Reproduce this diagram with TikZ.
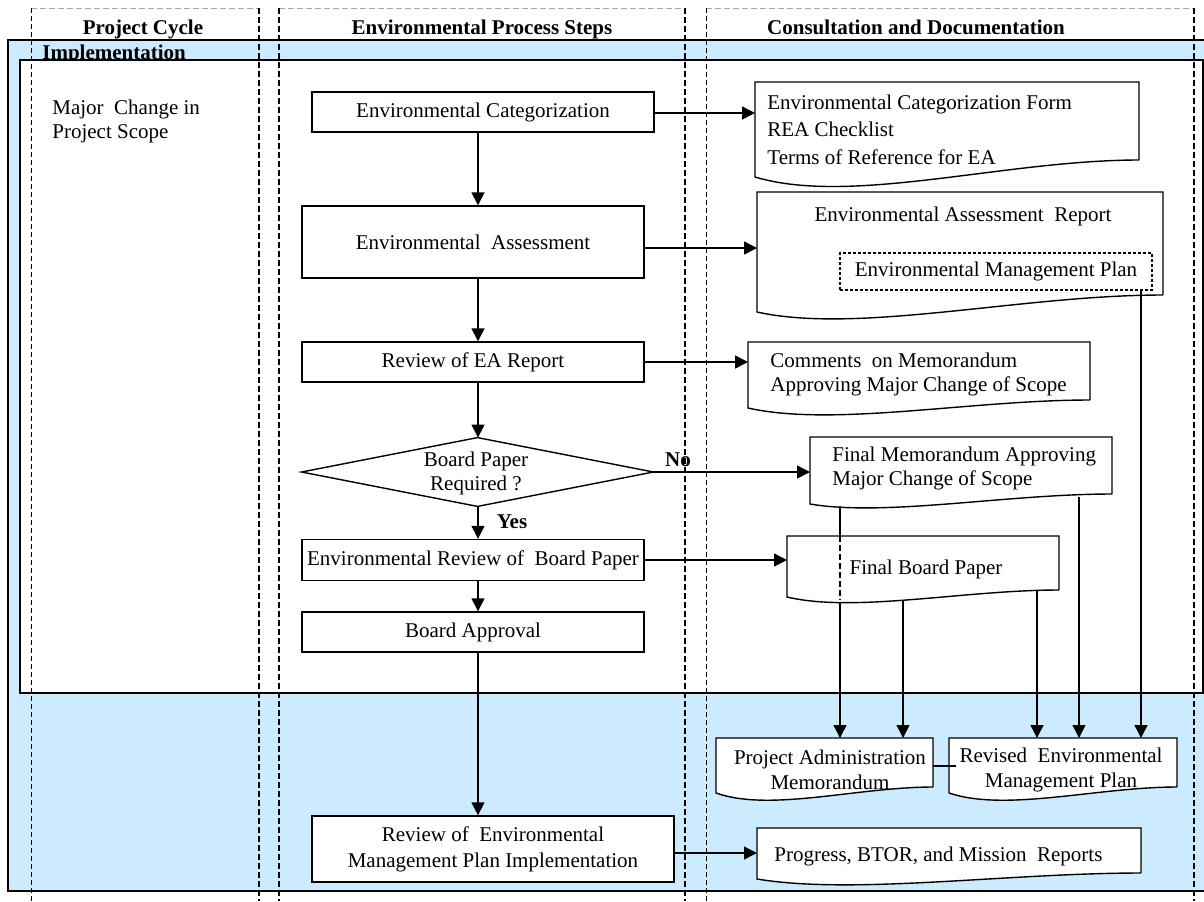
\documentclass[tikz,border=0pt]{standalone}
\usepackage{fontspec}
\setmainfont{Liberation Serif}
\usetikzlibrary{arrows.meta,calc}
\newcommand{\pxl}{0.5pt}
\definecolor{laneblue}{RGB}{204,235,255}
% document symbol: name, left x, top y, right x, bottom y at the right side, drop at the left, depth of the wave
\newcommand{\docshape}[7]{%
  \node[docrect, minimum width={(#4-#2)*\pxl}, minimum height={(#5-#3)*\pxl}] (#1) at ({(#2+#4)/2},{(#3+#5)/2}) {};
  \fill[white] (#2,#5) -- (#2,{#5+#6}) .. controls ({#2+0.25*(#4-#2)},{#5+#6+3.2*#7}) and ({#2+0.65*(#4-#2)},#5) .. (#4,#5) -- cycle;
  \draw[boxline] (#4,#5) -- (#4,#3) -- (#2,#3) -- (#2,{#5+#6}) .. controls ({#2+0.25*(#4-#2)},{#5+#6+3.2*#7}) and ({#2+0.65*(#4-#2)},#5) .. (#4,#5);
}
\tikzset{
  txt/.style={font=\fontsize{10.5}{12}\selectfont, inner sep=0pt, align=center},
  ltxt/.style={txt, align=left},
  hdr/.style={font=\fontsize{10.5}{12}\selectfont\bfseries, inner sep=0pt},
  boxline/.style={draw=black, line width=0.7pt},
  proc/.style={txt, boxline, fill=white, minimum width=#1*\pxl},
  docrect/.style={rectangle, fill=white, inner sep=0pt, outer sep=0pt},
  arr/.style={line width=0.7pt, -{Triangle[length=6.5pt,width=6.5pt]}},
  plain/.style={line width=0.7pt},
  lanethick/.style={line width=0.8pt, dash pattern=on 3pt off 1.5pt},
  lanethin/.style={line width=0.45pt, dash pattern=on 2.5pt off 1.5pt},
  lanetop/.style={line width=0.4pt, draw=black!35, dash pattern=on 3pt off 1.5pt},
}
\begin{document}
\begin{tikzpicture}[x=0.5pt, y=-0.5pt]
\useasboundingbox (0,0) rectangle (1204,901);
\clip (0,0) rectangle (1204,901);

% phase band and its inner panel
\draw[fill=laneblue, line width=0.8pt] (8,40) rectangle (1212,891);
\node[hdr, anchor=base west] (impl) at (42,59) {Implementation};
\draw[fill=white, line width=0.8pt] (20,60) rectangle (1203,693);

% swimlane borders
\draw[lanetop] (31,8) -- (259,8) (279,8) -- (685,8) (706,8) -- (1194,8);
\draw[lanethin] (31,8) -- (31,901) (706,8) -- (706,901);
\draw[lanethick] (259,8) -- (259,901) (279,8) -- (279,901) (685,8) -- (685,901) (1194,8) -- (1194,901);

% lane headings
\node[hdr, anchor=base] (h1) at (143,34) {Project Cycle};
\node[hdr, anchor=base] (h2) at (482,34) {Environmental Process Steps};
\node[hdr, anchor=base] (h3) at (916,34) {Consultation and Documentation};

\node[ltxt, anchor=north west] (scope) at (52,100) {Major~ Change in\\Project Scope};

% process steps
\node[proc=342, minimum height=40*\pxl] (cat) at (483,112) {Environmental Categorization};
\node[proc=342, minimum height=72*\pxl] (ea) at (473,242) {Environmental~ Assessment};
\node[proc=342, minimum height=40*\pxl] (rev) at (473,362) {Review of EA Report};
\node[txt, minimum width=351*\pxl, minimum height=68*\pxl] (dia) at (477.5,472) {};
\draw[boxline, fill=white] (dia.north) -- (dia.east) -- (dia.south) -- (dia.west) -- cycle;
\node[txt] (diat) at (476,473) {Board Paper\\Required ?};
\node[proc=342, minimum height=41*\pxl] (erb) at (473,560) {Environmental Review of~ Board Paper};
\node[proc=342, minimum height=40*\pxl] (ba) at (473,632) {Board Approval};
\node[proc=362, minimum height=66*\pxl, font=\fontsize{10.5}{13}\selectfont] (remp) at (493,849) {Review of~ Environmental\\Management Plan Implementation};

% documents
\docshape{d1}{755}{82}{1139}{160}{17}{9}
\node[ltxt, anchor=west, font=\fontsize{10.5}{13.75}\selectfont] (d1t) at (767,129.5) {Environmental Categorization Form\\REA Checklist\\Terms of Reference for EA};
\docshape{d2}{757}{192}{1163}{295}{17}{7}
\node[txt] (d2t) at (963,216) {Environmental Assessment~ Report};
\node[txt, draw, line width=0.55pt, dash pattern=on 1.5pt off 1pt, minimum width=312*\pxl, minimum height=37*\pxl] (emp) at (996,271.5) {Environmental Management Plan};
\docshape{d3}{748}{342}{1090}{400}{8}{6}
\node[ltxt, anchor=west] (d3t) at (770,374) {Comments~ on Memorandum\\Approving Major Change of Scope};
\docshape{d4}{810}{437}{1112}{494}{10}{4}
\node[ltxt, anchor=west] (d4t) at (832,468.5) {Final Memorandum Approving\\Major Change of Scope};
\docshape{d6}{716}{738}{933}{787}{6}{6}
\node[txt, font=\fontsize{10.5}{12.5}\selectfont] (d6t) at (830,769.5) {Project Administration\\Memorandum};
\docshape{d7}{949}{738}{1177}{787}{6}{6}
\node[txt, font=\fontsize{10.5}{12.5}\selectfont] (d7t) at (1061,769.5) {Revised~ Environmental\\Management Plan};
\docshape{d8}{757}{828}{1141}{873}{6}{5}
\node[ltxt, anchor=west] (d8t) at (774,856) {Progress, BTOR, and Mission~ Reports};

% memorandum feeding the administration memorandum, passing behind the board paper
\draw[arr] ($(d4.south -| 840,0)+(0,12)$) -- (d6.north -| 840,0);
\docshape{d5}{787}{536}{1059}{590}{7}{5}
\draw[line width=0.7pt, dash pattern=on 3pt off 1.5pt] (d5.north -| 840,0) -- ($(d5.south -| 840,0)+(0,10)$);
\node[txt] (d5t) at (926,569) {Final Board Paper};

% main flow
\draw[arr] (cat.south -| 478,0) -- (ea.north -| 478,0);
\draw[arr] (ea.south -| 478,0) -- (rev.north -| 478,0);
\draw[arr] (rev.south -| 478,0) -- (dia.north -| 478,0);
\draw[arr] (dia.south -| 478,0) -- (erb.north -| 478,0);
\node[hdr] (yes) at (512,522) {Yes};
\draw[arr] (erb.south -| 478,0) -- (ba.north -| 478,0);
\draw[arr] (ba.south -| 478,0) -- (remp.north -| 478,0);

% outputs of each step
\draw[arr] (cat.east |- 0,113) -- (d1.west |- 0,113);
\draw[arr] (ea.east |- 0,248) -- (d2.west |- 0,248);
\draw[arr] (rev.east) -- (rev.east -| d3.west);
\draw[arr] (dia.east) -- (dia.east -| d4.west);
\node[hdr] (no) at (678,460) {No};
\draw[arr] (erb.east) -- (erb.east -| d5.west);
\draw[arr] (remp.east |- 0,853) -- (d8.west |- 0,853);

% documents carried into implementation
\draw[arr] ($(d5.south -| 903,0)+(0,10)$) -- (d6.north -| 903,0);
\draw[arr] ($(d5.south -| 1037,0)+(0,1)$) -- (d7.north -| 1037,0);
\draw[arr] ($(d4.south -| 1079,0)+(0,3)$) -- (d7.north -| 1079,0);
\draw[arr] (emp.south -| 1141,0) -- (d7.north -| 1141,0);
\draw[plain] (d6.east |- 0,766) -- ($(d7.west |- 0,766)+(7,0)$);
\end{tikzpicture}
\end{document}
